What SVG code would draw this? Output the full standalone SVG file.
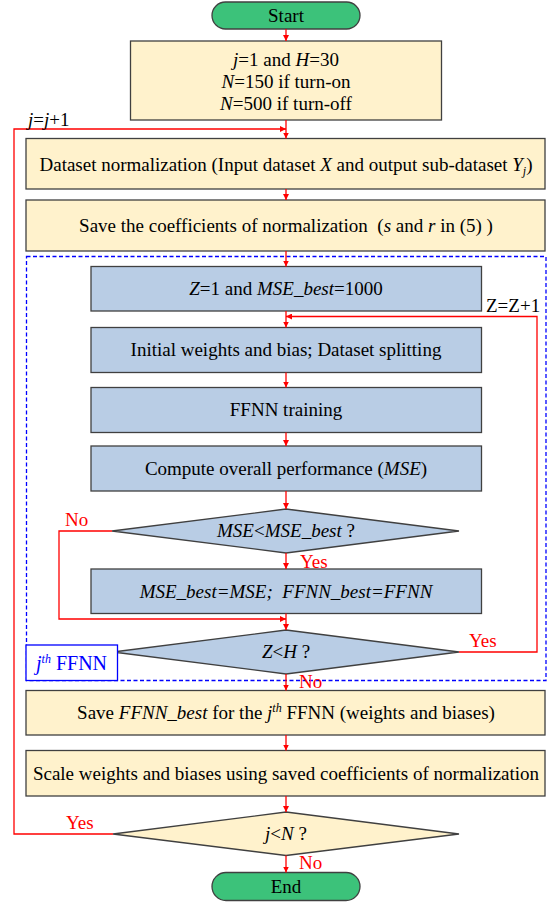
<svg xmlns="http://www.w3.org/2000/svg" width="553" height="902" viewBox="0 0 553 902" font-family="'Liberation Serif', 'Times New Roman', serif">
<defs>
<marker id="ah" viewBox="0 0 10 10" refX="10" refY="5" markerWidth="6" markerHeight="6" markerUnits="userSpaceOnUse" orient="auto"><path d="M0,0 L10,5 L0,10 z" fill="#ff0000"/></marker>
<style>
text{font-family:"Liberation Serif","Times New Roman",serif;font-size:19px;fill:#000;}
.c{text-anchor:middle;}
.i{font-style:italic;}
.r{fill:#ff0000;}
.y{fill:#fff2cc;stroke:#404040;stroke-width:1.3;}
.b{fill:#b9cde5;stroke:#404040;stroke-width:1.3;}
.g{fill:#3cc27a;stroke:#404040;stroke-width:1.3;}
.a{fill:none;stroke:#ff0000;stroke-width:1.3;marker-end:url(#ah);}
.bl{fill:#0000ff;}
</style>
</defs>
<rect x="0" y="0" width="553" height="902" fill="#fff"/>
<g id="frame">
<rect x="26.5" y="256.5" width="519.5" height="424" fill="none" stroke="#0000ff" stroke-width="1.3" stroke-dasharray="4,2.5"/>
</g>
<g id="start"><rect class="g" x="212" y="2" width="148" height="27" rx="13.5"/><text class="c" x="286" y="22">Start</text></g>
<g id="init"><rect class="y" x="130.5" y="41" width="311" height="79"/>
<text class="c" x="286" y="66"><tspan class="i">j</tspan>=1 and <tspan class="i">H</tspan>=30</text>
<text class="c" x="286" y="88"><tspan class="i">N</tspan>=150 if turn-on</text>
<text class="c" x="286" y="110"><tspan class="i">N</tspan>=500 if turn-off</text></g>
<g id="norm"><rect class="y" x="26" y="138.5" width="519" height="50.5"/>
<text class="c" x="286" y="171">Dataset normalization (Input dataset <tspan class="i">X</tspan> and output sub-dataset <tspan class="i">Y</tspan><tspan class="i" font-size="12" style="font-size:12px" dy="4">j</tspan><tspan dy="-4">)</tspan></text></g>
<g id="savecoef"><rect class="y" x="26" y="200" width="519" height="51"/>
<text class="c" x="286" y="232" xml:space="preserve">Save the coefficients of normalization  (<tspan class="i">s</tspan> and <tspan class="i">r</tspan> in (5) )</text></g>
<g id="zinit"><rect class="b" x="91" y="266.5" width="390.5" height="44.5"/>
<text class="c" x="286" y="295"><tspan class="i">Z</tspan>=1 and <tspan class="i">MSE_best</tspan>=1000</text></g>
<g id="initw"><rect class="b" x="91" y="327.5" width="390.5" height="45"/>
<text class="c" x="286" y="356">Initial weights and bias; Dataset splitting</text></g>
<g id="train"><rect class="b" x="91" y="387.5" width="390.5" height="45"/>
<text class="c" x="286" y="416">FFNN training</text></g>
<g id="perf"><rect class="b" x="91" y="446" width="390.5" height="45"/>
<text class="c" x="286" y="475">Compute overall performance (<tspan class="i">MSE</tspan>)</text></g>
<g id="cmp"><polygon class="b" points="286,509 459,531 286,553 112,531"/>
<text class="c" x="286" y="537"><tspan class="i">MSE</tspan>&lt;<tspan class="i">MSE_best</tspan> ?</text></g>
<g id="best"><rect class="b" x="91" y="569" width="390.5" height="44.5"/>
<text class="c i" x="286" y="598" xml:space="preserve">MSE_best=MSE;  FFNN_best=FFNN</text></g>
<g id="zh"><polygon class="b" points="286,630 459,652 286,674 113,652"/>
<text class="c" x="286" y="658"><tspan class="i">Z</tspan>&lt;<tspan class="i">H</tspan> ?</text></g>
<g id="jth"><rect x="26" y="645" width="91.5" height="35.5" fill="#fff" stroke="#0000ff" stroke-width="1.3"/>
<text class="bl" x="36" y="670" style="font-size:20px"><tspan class="i bl">j</tspan><tspan class="i bl" style="font-size:12px" dy="-7">th</tspan><tspan class="bl" dy="7"> FFNN</tspan></text></g>
<g id="savebest"><rect class="y" x="26" y="690.5" width="519" height="44.5"/>
<text class="c" x="286" y="719">Save <tspan class="i">FFNN_best</tspan> for the <tspan class="i">j</tspan><tspan class="i" style="font-size:12px" dy="-7">th</tspan><tspan dy="7"> FFNN (weights and biases)</tspan></text></g>
<g id="scale"><rect class="y" x="26" y="750.5" width="519" height="45.5"/>
<text class="c" x="286" y="780">Scale weights and biases using saved coefficients of normalization</text></g>
<g id="jn"><polygon class="y" points="286,812 459,834 286,855.5 113,834"/>
<text class="c" x="286" y="840"><tspan class="i">j</tspan>&lt;<tspan class="i">N</tspan> ?</text></g>
<g id="end"><rect class="g" x="212" y="872.5" width="148" height="28" rx="14"/><text class="c" x="286" y="893">End</text></g>
<g id="connectors">
<line class="a" x1="286" y1="29" x2="286" y2="41"/>
<line class="a" x1="286" y1="120" x2="286" y2="138.5"/>
<polyline class="a" points="113,834 14,834 14,129 286,129"/>
<line class="a" x1="286" y1="189" x2="286" y2="200"/>
<line class="a" x1="286" y1="251" x2="286" y2="266.5"/>
<line class="a" x1="286" y1="311" x2="286" y2="327.5"/>
<polyline class="a" points="459,652 537,652 537,316.5 286,316.5"/>
<line class="a" x1="286" y1="372.5" x2="286" y2="387.5"/>
<line class="a" x1="286" y1="432.5" x2="286" y2="446"/>
<line class="a" x1="286" y1="491" x2="286" y2="509"/>
<line class="a" x1="286" y1="553" x2="286" y2="569"/>
<polyline class="a" points="112,531 59,531 59,619 286,619"/>
<line class="a" x1="286" y1="613.5" x2="286" y2="630"/>
<line class="a" x1="286" y1="674" x2="286" y2="690.5"/>
<line class="a" x1="286" y1="735" x2="286" y2="750.5"/>
<line class="a" x1="286" y1="796" x2="286" y2="812"/>
<line class="a" x1="286" y1="855.5" x2="286" y2="872.5"/>
<text x="28" y="126"><tspan class="i">j</tspan>=<tspan class="i">j</tspan>+1</text>
<text x="486" y="312">Z=Z+1</text>
<text class="r" x="65" y="526">No</text>
<text class="r" x="300" y="568">Yes</text>
<text class="r" x="469" y="647">Yes</text>
<text class="r" x="299" y="688">No</text>
<text class="r" x="66" y="829">Yes</text>
<text class="r" x="299" y="869">No</text>
</g>
</svg>
